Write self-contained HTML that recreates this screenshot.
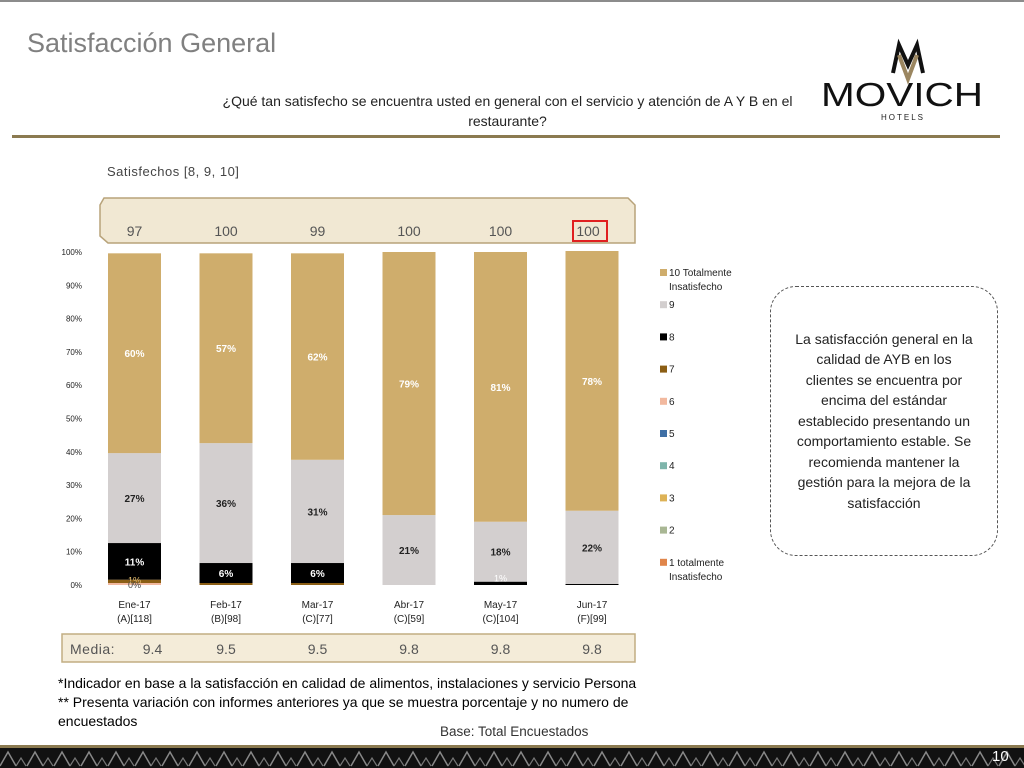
<!DOCTYPE html>
<html><head><meta charset="utf-8">
<style>
body{margin:0;width:1024px;height:768px;background:#fff;position:relative;overflow:hidden;font-family:"Liberation Sans",sans-serif;}
.abs{position:absolute;}
</style></head>
<body>
<div class="abs" style="left:0;top:0;width:1024px;height:2px;background:#8c8c8c"></div>
<div class="abs" style="left:27px;top:28px;font-size:27px;color:#808080;font-family:'Liberation Sans Narrow','Liberation Sans',sans-serif;letter-spacing:0px">Satisfacción General</div>
<div class="abs" style="left:205px;top:91px;width:605px;text-align:center;font-size:14px;line-height:20px;color:#222">¿Qué tan satisfecho se encuentra usted en general con el servicio y atención de A Y B en el restaurante?</div>
<div class="abs" style="left:12px;top:135px;width:988px;height:3px;background:#8b7a50"></div>
<svg class="abs" style="left:815px;top:35px" width="175" height="90">
<polyline points="78,38 84,10 93,30 102,10 108,38" fill="none" stroke="#111" stroke-width="4"/>
<polyline points="84,20 93,44 102,20" fill="none" stroke="#9b8660" stroke-width="4"/>
<text x="87" y="71" text-anchor="middle" font-size="33" font-family="Liberation Sans" fill="#111" textLength="162" lengthAdjust="spacingAndGlyphs">MOVICH</text>
<text x="88" y="85" text-anchor="middle" font-size="8" font-family="Liberation Sans" fill="#222" letter-spacing="2">HOTELS</text>
</svg>
<div class="abs" style="left:107px;top:164px;font-size:13px;color:#444;letter-spacing:0.5px">Satisfechos [8, 9, 10]</div>
<svg class="abs" id="chart" style="left:0;top:0" width="1024" height="768"></svg>
<div class="abs" style="left:770px;top:286px;width:228px;height:270px;border:1.5px dashed #555;border-radius:26px;box-sizing:border-box;display:flex;align-items:center;justify-content:center;text-align:center;font-size:14px;line-height:20.5px;color:#222;padding:0 24px">La satisfacción general en la calidad de AYB en los clientes se encuentra  por encima del estándar establecido presentando un comportamiento estable. Se recomienda mantener la gestión para la mejora de la satisfacción</div>
<div class="abs" style="left:58px;top:674px;width:600px;font-size:14px;line-height:19px;color:#000">*Indicador en base a la satisfacción en calidad de alimentos, instalaciones y servicio Persona<br>** Presenta variación con informes anteriores ya que se muestra porcentaje y no numero de encuestados</div>
<div class="abs" style="left:440px;top:724px;font-size:13.5px;color:#333">Base: Total Encuestados</div>
<div class="abs" style="left:0;top:745px;width:1024px;height:3px;background:#8b7a50"></div>
<svg class="abs" id="foot" style="left:0;top:748px" width="1024" height="20"></svg>
<div class="abs" style="left:992px;top:748px;font-size:15px;color:#fff">10</div>
<script>
const categories=["Ene-17","Feb-17","Mar-17","Abr-17","May-17","Jun-17"];
const bases=["(A)[118]","(B)[98]","(C)[77]","(C)[59]","(C)[104]","(F)[99]"];
const satisfied=["97","100","99","100","100","100"];
const means=["9.4","9.5","9.5","9.8","9.8","9.8"];
const s6=[0.6,0,0,0,0,0];
const s7=[1,0.6,0.6,0,0,0];
const s8=[11,6,6,0,1,0.3];
const s9=[27,36,31,21,18,22];
const s10=[60,57,62,79,81,78];
const yTicks=[0,10,20,30,40,50,60,70,80,90,100];
const legendLabels=[["10 Totalmente","Insatisfecho"],["9"],["8"],["7"],["6"],["5"],["4"],["3"],["2"],["1 totalmente","Insatisfecho"]];
const legendColors=["#cfad6c","#d3cfcf","#000","#8b5e14","#f2b99f","#3f6fa5","#7fb5ab","#ddb256","#a9b794","#e0854a"];

const NS="http://www.w3.org/2000/svg";
const svg=document.getElementById('chart');
function el(t,a,p){const e=document.createElementNS(NS,t);for(const k in a)e.setAttribute(k,a[k]);(p||svg).appendChild(e);return e;}
const y0=585,yH=333;
function y(v){return y0-v/100*yH;}
function xc(i){return 134.5+i*91.5;}
const bw=53;

const ban=el('path',{d:'M100,205 L104,198 L628,198 L635,205 L635,243 L108,243 L100,236 Z',fill:'#f1e8d3',stroke:'#b8a37a','stroke-width':1.5});



yTicks.forEach(t=>{const tx=el('text',{x:82,y:y(t)+3,'text-anchor':'end','font-size':8,fill:'#222'});tx.textContent=t+'%';

});

const series=[[s6,"#f2b99f"],[s7,"#8b5e14"],[s8,"#000"],[s9,"#d3cfcf"],[s10,"#cfad6c"]];
categories.forEach((c,i)=>{
 let acc=0;
 series.forEach(([arr,col],si)=>{
  const v=arr[i]; if(!v)return;
  const r=el('rect',{x:xc(i)-bw/2,y:y(acc+v),width:bw,height:v/100*yH,fill:col});
  
  
  if(v>=5){const t=el('text',{x:xc(i),y:y(acc+v/2)+4,'text-anchor':'middle','font-size':10,'font-weight':'bold',fill:(si==3)?'#222':'#fff'});t.textContent=Math.round(v)+'%';
   
   }
  acc+=v;
 });
 const l1=el('text',{x:xc(i),y:608,'text-anchor':'middle','font-size':10,fill:'#222'});l1.textContent=c;
 
 
 const l2=el('text',{x:xc(i),y:622,'text-anchor':'middle','font-size':10,fill:'#222'});l2.textContent=bases[i];
 
 
 const st=el('text',{x:xc(i)+(i==5?-4:0),y:236,'text-anchor':'middle','font-size':14,fill:'#555'});st.textContent=satisfied[i];
 
 
});
[[0,'1%',y(1.4)+3,'#e8c070'],[0,'0%',y(0)+3,'#444'],[4,'1%',y(0.5)-2,'#fff']].forEach(([i,t,yy,c])=>{const e=el('text',{x:xc(i),y:yy,'text-anchor':'middle','font-size':9,fill:c});e.textContent=t;
 
 });
const hl=el('rect',{x:573,y:221,width:34,height:20,fill:'none',stroke:'#e02020','stroke-width':2});



const mb=el('rect',{x:62,y:634,width:573,height:28,fill:'#f4ecd9',stroke:'#c2ad82','stroke-width':1.5});


const ml=el('text',{x:70,y:654,'font-size':14,fill:'#555','letter-spacing':0.5});ml.textContent='Media:';


means.forEach((m,i)=>{const t=el('text',{x:xc(i)+(i==0?18:0),y:654,'text-anchor':'middle','font-size':14,fill:'#555'});t.textContent=m;
 
 });

legendLabels.forEach((lab,i)=>{
 const yy=273+i*32.2;
 const r=el('rect',{x:660,y:yy-4,width:7,height:7,fill:legendColors[i]});
 
 
 lab.forEach((s,j)=>{const t=el('text',{x:669,y:yy+3+j*14,'font-size':10,fill:'#222'});t.textContent=s;
  
  });
});

const f=document.getElementById('foot');
el('rect',{x:0,y:0,width:1024,height:20,fill:'#111'},f);
for(let x=0;x<1024;x+=27){el('polyline',{points:`${x},18 ${x+8},4 ${x+16},18`,fill:'none',stroke:'#888','stroke-width':1.5},f);
 el('polyline',{points:`${x+16},18 ${x+21},10 ${x+26},18`,fill:'none',stroke:'#777','stroke-width':1.2},f);}
</script>
</body></html>
